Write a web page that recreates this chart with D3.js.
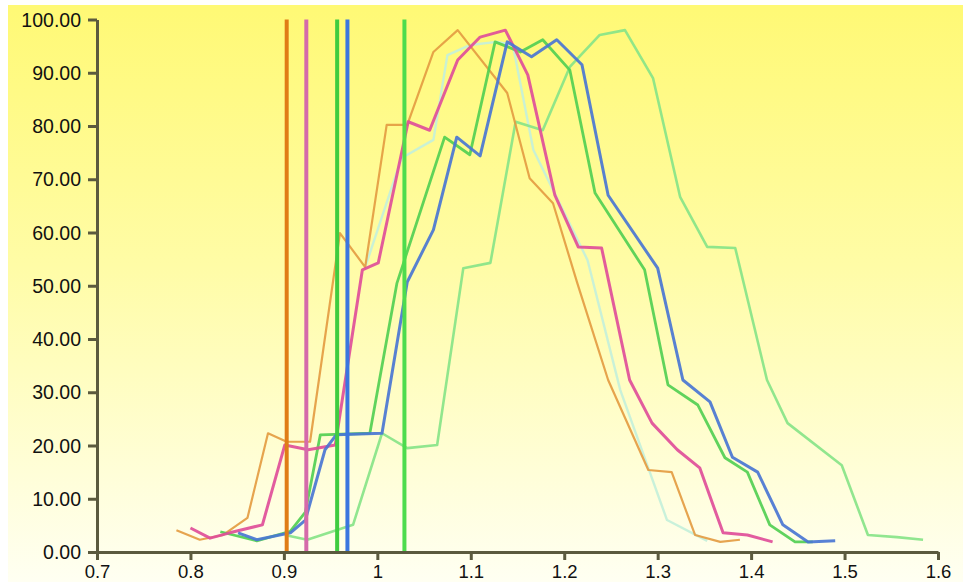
<!DOCTYPE html>
<html>
<head>
<meta charset="utf-8">
<script src="https://cdn.jsdelivr.net/npm/d3@7"></script>
<style>
  body { margin: 0; background: #fff; }
  svg { display: block; }
  .axis text { font-family: "Liberation Sans", Arial, sans-serif; fill: #111; }
  .axis path, .axis line { stroke: #5b5a3e; stroke-width: 3; }
</style>
</head>
<body>
<svg id="chart" width="973" height="587"></svg>
<script>
// tick labels
const xTicks = [0.7, 0.8, 0.9, 1.0, 1.1, 1.2, 1.3, 1.4, 1.5, 1.6];
const yTicks = [0, 10, 20, 30, 40, 50, 60, 70, 80, 90, 100];

// curves (x value, percent)
const orangeX = [0.785, 0.810, 0.835, 0.861, 0.883, 0.903, 0.928, 0.960, 0.987, 1.010, 1.032, 1.060, 1.086, 1.139, 1.163, 1.188, 1.214, 1.247, 1.290, 1.315, 1.340, 1.367, 1.388];
const orangeY = [4.1, 2.3, 3.2, 6.4, 22.3, 20.7, 20.7, 59.9, 53.5, 80.2, 80.2, 93.9, 98.0, 86.2, 70.2, 65.5, 50.5, 32.3, 15.4, 15.0, 3.2, 1.9, 2.3];

const pinkX = [0.800, 0.821, 0.842, 0.877, 0.901, 0.926, 0.955, 0.984, 1.001, 1.033, 1.056, 1.086, 1.110, 1.137, 1.161, 1.190, 1.215, 1.240, 1.270, 1.294, 1.321, 1.345, 1.370, 1.396, 1.423];
const pinkY = [4.5, 2.6, 3.6, 5.1, 20.1, 19.2, 20.1, 53.0, 54.3, 80.8, 79.2, 92.4, 96.7, 98.0, 89.6, 67.0, 57.3, 57.1, 32.3, 24.2, 19.2, 15.8, 3.6, 3.2, 1.9];

const blueX = [0.851, 0.871, 0.907, 0.923, 0.944, 0.956, 1.005, 1.032, 1.060, 1.085, 1.110, 1.139, 1.165, 1.192, 1.219, 1.247, 1.300, 1.327, 1.356, 1.380, 1.407, 1.434, 1.461, 1.490];
const blueY = [3.6, 2.3, 3.6, 6.0, 19.2, 22.0, 22.3, 50.7, 60.5, 77.9, 74.4, 95.8, 93.0, 96.2, 91.5, 67.0, 53.3, 32.3, 28.2, 17.8, 15.0, 5.1, 1.9, 2.1];

const greenX = [0.832, 0.871, 0.907, 0.923, 0.939, 0.992, 1.021, 1.072, 1.099, 1.126, 1.153, 1.177, 1.206, 1.233, 1.286, 1.311, 1.343, 1.372, 1.396, 1.420, 1.447, 1.466];
const greenY = [3.8, 2.1, 3.9, 7.5, 22.0, 22.3, 50.5, 77.9, 74.6, 95.8, 93.9, 96.2, 90.5, 67.4, 53.0, 31.4, 27.6, 17.7, 15.0, 5.1, 1.9, 1.9];

const lightX = [0.901, 0.925, 0.974, 1.005, 1.032, 1.064, 1.092, 1.121, 1.148, 1.177, 1.206, 1.238, 1.265, 1.295, 1.324, 1.353, 1.383, 1.417, 1.439, 1.497, 1.525, 1.556, 1.584];
const lightY = [3.2, 2.3, 5.1, 22.3, 19.5, 20.1, 53.3, 54.3, 80.8, 79.2, 91.1, 97.1, 98.0, 89.0, 66.7, 57.3, 57.1, 32.3, 24.2, 16.3, 3.2, 2.8, 2.3];

const paleX = [0.987, 1.026, 1.060, 1.075, 1.099, 1.128, 1.145, 1.167, 1.225, 1.260, 1.310, 1.353];
const paleY = [53.5, 74.0, 77.4, 93.3, 95.2, 95.8, 95.2, 75.5, 54.8, 30.4, 6.0, 2.1];

// vertical marker lines
const markerX = [0.903, 0.924, 0.957, 0.968, 1.029];
const markerColors = ['#e07c16', '#d56aaa', '#3fcc3f', '#3b76df', '#4ddc4d'];

const series = [
  { x: paleX, y: paleY, color: '#c4f0da', width: 2.4 },
  { x: lightX, y: lightY, color: '#88e488', width: 2.6 },
  { x: orangeX, y: orangeY, color: '#e49c42', width: 2.2 },
  { x: greenX, y: greenY, color: '#52cf52', width: 2.8 },
  { x: pinkX, y: pinkY, color: '#df4e99', width: 3 },
  { x: blueX, y: blueY, color: '#4a76d2', width: 3 }
];

const svg = d3.select('#chart');

const defs = svg.append('defs');
const grad = defs.append('linearGradient')
  .attr('id', 'bg')
  .attr('x1', 0).attr('y1', 0).attr('x2', 0).attr('y2', 1);
grad.append('stop').attr('offset', '0%').attr('stop-color', '#fff975');
grad.append('stop').attr('offset', '45%').attr('stop-color', '#fffca6');
grad.append('stop').attr('offset', '100%').attr('stop-color', '#fffff2');

svg.append('rect')
  .attr('x', 8).attr('y', 5)
  .attr('width', 955).attr('height', 577)
  .attr('fill', 'url(#bg)');

const xScale = d3.scaleLinear().domain([0.7, 1.6]).range([97, 938]);
const yScale = d3.scaleLinear().domain([0, 100]).range([552, 19.5]);

const line = d3.line()
  .x(d => xScale(d[0]))
  .y(d => yScale(d[1]));

series.forEach(s => {
  svg.append('path')
    .datum(s.x.map((v, i) => [v, s.y[i]]))
    .attr('d', line)
    .attr('fill', 'none')
    .attr('stroke', s.color)
    .attr('stroke-width', s.width)
    .attr('stroke-linejoin', 'round')
    .attr('stroke-opacity', 0.92);
});

svg.selectAll('.marker')
  .data(markerX)
  .enter()
  .append('line')
  .classed('marker', true)
  .attr('x1', d => xScale(d))
  .attr('x2', d => xScale(d))
  .attr('y1', yScale(100))
  .attr('y2', yScale(0))
  .attr('stroke', (d, i) => markerColors[i])
  .attr('stroke-width', 4);

const yAxis = d3.axisLeft(yScale)
  .tickValues(yTicks)
  .tickFormat(d3.format('.2f'))
  .tickSize(9)
  .tickSizeOuter(0)
  .tickPadding(7);

const gY = svg.append('g')
  .classed('axis', true)
  .attr('transform', 'translate(97,0)')
  .call(yAxis);
gY.selectAll('text').style('font-size', '19.5px').attr('dy', '0.34em');

const xAxis = d3.axisBottom(xScale)
  .tickValues(xTicks)
  .tickFormat(d3.format('~g'))
  .tickSize(8)
  .tickSizeOuter(0)
  .tickPadding(5);

const gX = svg.append('g')
  .classed('axis', true)
  .attr('transform', 'translate(0,552)')
  .call(xAxis);
gX.selectAll('text').style('font-size', '18.5px');
</script>
</body>
</html>
